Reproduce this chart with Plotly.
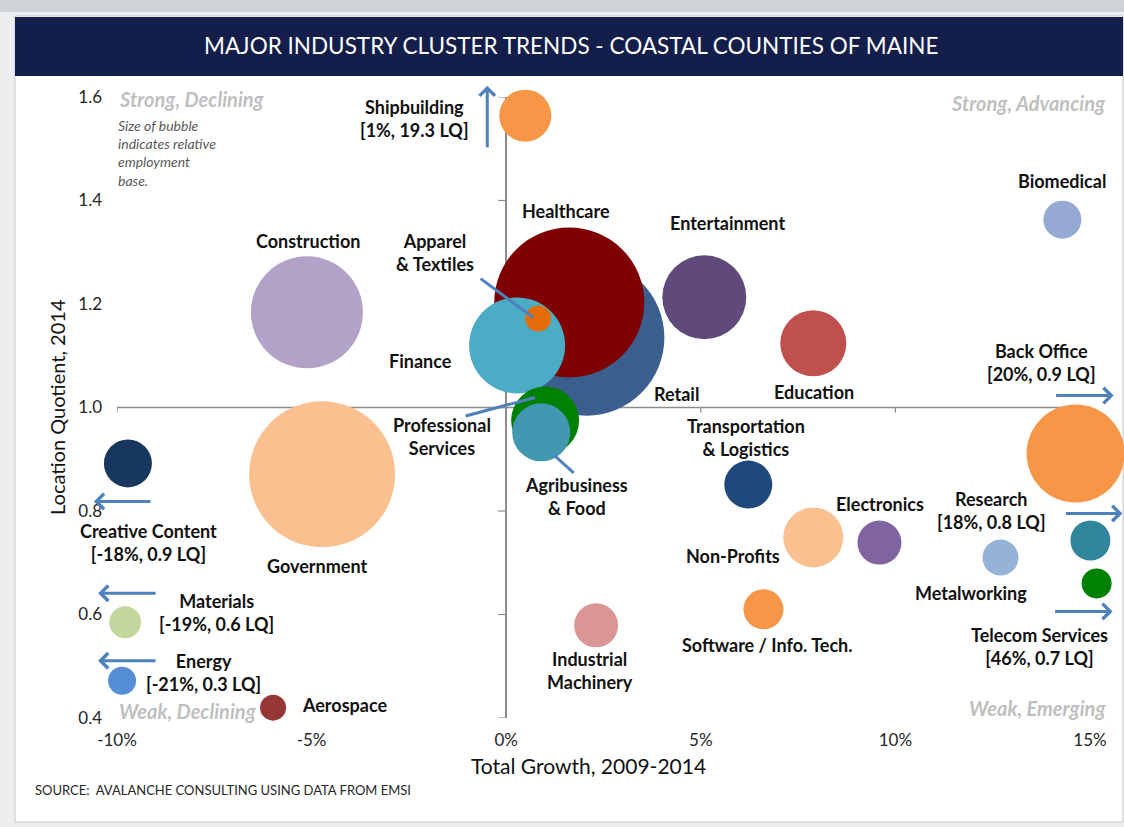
import plotly.graph_objects as go

# ---------------- DATA ----------------
industries = ["Retail", "Healthcare", "Finance", "Apparel & Textiles", "Professional Services",
              "Agribusiness & Food", "Shipbuilding", "Biomedical", "Construction", "Entertainment",
              "Education", "Transportation & Logistics", "Non-Profits", "Electronics", "Metalworking",
              "Research", "Telecom Services", "Back Office", "Software / Info. Tech.",
              "Industrial Machinery", "Government", "Creative Content", "Materials", "Energy", "Aerospace"]
# total growth 2009-2014 (%), plotted position (off-scale clusters capped at chart edge)
growth = [2.06, 1.62, 0.28, 0.82, 1.00, 0.90, 0.49, 14.29, -5.12, 5.09,
          7.89, 6.22, 7.89, 9.59, 12.70, 15.01, 15.17, 14.63, 6.61,
          2.31, -4.73, -9.72, -9.79, -9.87, -5.99]
# location quotient 2014 (plotted position)
lq = [1.135, 1.203, 1.120, 1.172, 0.975, 0.952, 1.564, 1.363, 1.184, 1.213,
      1.124, 0.851, 0.749, 0.739, 0.710, 0.743, 0.660, 0.911, 0.610,
      0.579, 0.871, 0.892, 0.585, 0.472, 0.420]
# relative employment base (bubble area)
employment = [6084, 5625, 2304, 169, 1156, 841, 676, 361, 3136, 1764,
              1089, 576, 900, 484, 324, 400, 225, 2401, 400,
              484, 5329, 576, 256, 196, 169]
labels = ["Retail", "Healthcare", "Finance", "Apparel<br>& Textiles", "Professional<br>Services",
          "Agribusiness<br>& Food", "Shipbuilding<br>[1%, 19.3 LQ]", "Biomedical", "Construction",
          "Entertainment", "Education", "Transportation<br>& Logistics", "Non-Profits", "Electronics",
          "Metalworking", "Research<br>[18%, 0.8 LQ]", "Telecom Services<br>[46%, 0.7 LQ]",
          "Back Office<br>[20%, 0.9 LQ]", "Software / Info. Tech.", "Industrial<br>Machinery",
          "Government", "Creative Content<br>[-18%, 0.9 LQ]", "Materials<br>[-19%, 0.6 LQ]",
          "Energy<br>[-21%, 0.3 LQ]", "Aerospace"]
x_ticks = [-10, -5, 0, 5, 10, 15]
x_ticktext = ["-10%", "-5%", "0%", "5%", "10%", "15%"]
y_ticks = [0.4, 0.6, 0.8, 1.0, 1.2, 1.4, 1.6]

# ---------------- STYLE ----------------
colors = ["#3A5F8E", "#7F0000", "#4BACC6", "#E46C0A", "#008000",
          "#4298B0", "#F79646", "#95A9D3", "#B3A2C7", "#604A7B",
          "#C0504D", "#1F497D", "#FAC090", "#8064A2", "#95B3D7",
          "#31859C", "#008000", "#F79646", "#F79646",
          "#D99694", "#FAC090", "#17375E", "#C3D69B", "#558ED5", "#953735"]
# label offsets in pixels relative to bubble centre (dx, dy up, xanchor)
label_pos = {
    "Retail": (90, -56, "center"), "Healthcare": (-3, 91, "center"), "Finance": (-97, -16, "center"),
    "Apparel & Textiles": (-103, 66, "center"), "Professional Services": (-103, -16, "center"),
    "Agribusiness & Food": (35, -64, "center"), "Shipbuilding": (-111, -3, "center"),
    "Biomedical": (0, 39, "center"), "Construction": (1, 71, "center"),
    "Entertainment": (23, 74, "center"), "Education": (1, -49, "center"),
    "Transportation & Logistics": (-2, 47, "center"), "Non-Profits": (-80, -19, "center"),
    "Electronics": (1, 39, "center"), "Metalworking": (-29, -35, "center"),
    "Research": (-99, 30, "center"), "Telecom Services": (-57, -63, "center"),
    "Back Office": (-34, 91, "center"), "Software / Info. Tech.": (4, -36, "center"),
    "Industrial Machinery": (-6, -45, "center"), "Government": (-5, -92, "center"),
    "Creative Content": (21, -79, "center"), "Materials": (91, 10, "center"),
    "Energy": (81, 8, "center"), "Aerospace": (27, 3, "left"),
}
# arrows: (xshift, yshift, ax, ay, arrowhead) relative to bubble centre
arrow_pos = {
    "Shipbuilding": (-38, 30, 0, 63, 4),
    "Creative Content": (-34, -38, 58, 0, 4),
    "Materials": (-27, 29, 59, 0, 4),
    "Energy": (-24, 20, 59, 0, 4),
    "Back Office": (38, 58, -59, 0, 4),
    "Research": (32, 27, -58, 0, 4),
    "Telecom Services": (16, -28, -59, 0, 4),
    "Apparel & Textiles": (-5, 1, -54, -40, 0),
    "Professional Services": (-10, 23, -71, 19, 0),
    "Agribusiness & Food": (13, -23, 21, 19, 0),
}

W, H = 1124, 827
L, R, T, B = 117, 22, 97, 109
PX_PER_PCT = 973 / 25.0          # -10% at 117px, 15% at 1090px
PW, PH = W - L - R, H - T - B
X_MAX = x_ticks[0] + PW / PX_PER_PCT   # a little room past 15% so edge bubbles are drawn
FONT = "Lato"
LABEL_SIZE = 18


def pxx(p):
    return (p - L) / PW


def pxy(p):
    return (H - B - p) / PH


fig = go.Figure()
fig.add_trace(go.Scatter(
    x=growth, y=lq, mode="markers", text=industries, hoverinfo="text",
    marker=dict(size=employment, sizemode="area", sizeref=0.5, color=colors,
                opacity=1, line=dict(width=0)),
    cliponaxis=False,
))

shapes = []
# background panel
shapes.append(dict(type="rect", xref="paper", yref="paper", x0=pxx(-5), x1=pxx(W + 5),
                   y0=pxy(12), y1=pxy(-5), fillcolor="#d0d3d6", line=dict(width=0), layer="below"))
shapes.append(dict(type="rect", xref="paper", yref="paper", x0=pxx(15), x1=pxx(1123),
                   y0=pxy(822), y1=pxy(16), fillcolor="white", line=dict(color="#c9c9c9", width=1),
                   layer="below"))
shapes.append(dict(type="rect", xref="paper", yref="paper", x0=pxx(15), x1=pxx(1123),
                   y0=pxy(76), y1=pxy(17), fillcolor="#131e4a", line=dict(width=0), layer="below"))
# horizontal axis line at LQ = 1.0
shapes.append(dict(type="line", xref="x", yref="y", x0=x_ticks[0], x1=x_ticks[-1], y0=1.0, y1=1.0,
                   line=dict(color="#8c8c8c", width=1.5), layer="below"))
for xv in x_ticks:
    shapes.append(dict(type="line", xref="x", yref="y", ysizemode="pixel", yanchor=1.0,
                       x0=xv, x1=xv, y0=-5, y1=0, line=dict(color="#8c8c8c", width=1.2), layer="below"))
for yv in y_ticks:
    shapes.append(dict(type="line", xref="x", yref="y", xsizemode="pixel", xanchor=0,
                       x0=-8, x1=0, y0=yv, y1=yv, line=dict(color="#8c8c8c", width=1.2), layer="below"))

ann = []
# title
ann.append(dict(text="MAJOR INDUSTRY CLUSTER TRENDS - COASTAL COUNTIES OF MAINE", xref="paper", yref="paper",
                x=pxx(571), y=pxy(45), showarrow=False, font=dict(family=FONT, size=22.5, color="white"),
                xanchor="center", yanchor="middle"))
# axis titles
ann.append(dict(text="Total Growth, 2009-2014", xref="paper", yref="paper", x=pxx(588), y=pxy(766),
                showarrow=False, font=dict(family=FONT, size=21, color="#111"), xanchor="center",
                yanchor="middle"))
ann.append(dict(text="Location Quotient, 2014", xref="paper", yref="paper", x=pxx(57), y=pxy(407),
                showarrow=False, textangle=-90, font=dict(family=FONT, size=20, color="#111"),
                xanchor="center", yanchor="middle"))
# source
ann.append(dict(text="SOURCE:  AVALANCHE CONSULTING USING DATA FROM EMSI", xref="paper", yref="paper",
                x=pxx(33), y=pxy(790), showarrow=False, font=dict(family=FONT, size=13, color="#262626"),
                xanchor="left", yanchor="middle"))
# quadrant labels
quad = [("Strong, Declining", 117, 99, "left"), ("Strong, Advancing", 1108, 103, "right"),
        ("Weak, Declining", 117, 711, "left"), ("Weak, Emerging", 1108, 708, "right")]
for txt, qx, qy, anc in quad:
    ann.append(dict(text="<b><i>" + txt + "</i></b>", xref="paper", yref="paper", x=pxx(qx), y=pxy(qy),
                    showarrow=False, font=dict(family=FONT, size=20, color="#bfbfbf"),
                    xanchor=anc, yanchor="middle"))
ann.append(dict(text="<i>Size of bubble<br>indicates relative<br>employment<br>base.</i>",
                xref="paper", yref="paper", x=pxx(116), y=pxy(115), showarrow=False, align="left",
                font=dict(family=FONT, size=14, color="#595959"), xanchor="left", yanchor="top"))
# bubble labels
for name, gx, qy, lab in zip(industries, growth, lq, labels):
    dx, dy, anc = label_pos[name]
    ann.append(dict(text="<b>" + lab + "</b>", x=gx, y=qy, xref="x", yref="y", xshift=dx, yshift=dy,
                    showarrow=False, xanchor=anc, yanchor="middle",
                    font=dict(family=FONT, size=LABEL_SIZE, color="#111")))
# arrows and connectors
for name, gx, qy in zip(industries, growth, lq):
    if name in arrow_pos:
        sx, sy, axp, ayp, head = arrow_pos[name]
        ann.append(dict(text="", x=gx, y=qy, xref="x", yref="y", xshift=sx, yshift=sy,
                        ax=axp, ay=ayp, showarrow=True, arrowhead=head, arrowsize=1,
                        arrowwidth=3, arrowcolor="#4f81bd", standoff=0, startstandoff=0))

fig.update_layout(
    width=W, height=H, margin=dict(l=L, r=R, t=T, b=B),
    paper_bgcolor="#eceef0", plot_bgcolor="rgba(0,0,0,0)", showlegend=False,
    shapes=shapes, annotations=ann,
    xaxis=dict(range=[x_ticks[0], X_MAX], tickvals=x_ticks, ticktext=x_ticktext, showgrid=False,
               zeroline=True, zerolinecolor="#8c8c8c", zerolinewidth=1.5, showline=False, ticks="",
               ticklabelstandoff=10, tickfont=dict(family=FONT, size=17, color="#262626")),
    yaxis=dict(range=[y_ticks[0], y_ticks[-1]], tickvals=y_ticks, tickformat=".1f", showgrid=False,
               zeroline=False, showline=False, ticks="", ticklabelstandoff=14,
               tickfont=dict(family=FONT, size=17, color="#262626")),
)

fig.write_html("out.html", config={"displayModeBar": False},
               post_script="document.body.style.margin='0px';document.body.style.overflow='hidden';")
